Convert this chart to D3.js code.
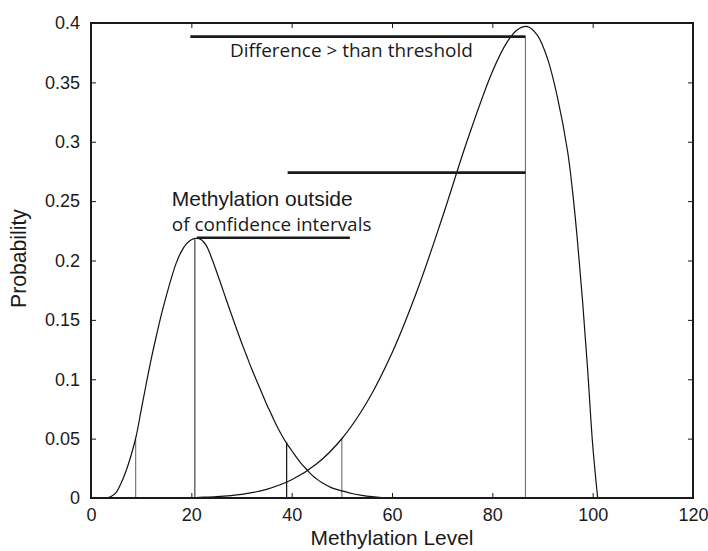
<!DOCTYPE html>
<html>
<head>
<meta charset="utf-8">
<script src="https://cdn.jsdelivr.net/npm/d3@7"></script>
<style>
body { margin: 0; background: #fff; }
svg { display: block; }
.axis text { font-family: "Liberation Sans", Arial, sans-serif; font-size: 18px; fill: #1a1a1a; }
.axis line { stroke: #1a1a1a; stroke-width: 1px; }
.axis path { display: none; }
</style>
</head>
<body>
<div id="chart"></div>
<script>
// tick values and labels
var xTicks = [0, 20, 40, 60, 80, 100, 120];
var yTicks = [0, 0.05, 0.1, 0.15, 0.2, 0.25, 0.3, 0.35, 0.4];
var yTickLabels = ["0", "0.05", "0.1", "0.15", "0.2", "0.25", "0.3", "0.35", "0.4"];

// low methylation distribution
var lowX = [3, 4, 5, 6, 7, 8, 9, 10, 11, 12, 13, 14, 15, 16, 17, 18, 19, 20, 21, 22, 23, 24, 25,
            26, 27, 28, 29, 30, 31, 32, 33, 34, 35, 36, 37, 38, 39, 40, 41, 42, 43, 44, 45, 46,
            48, 50, 52, 54, 56, 58, 60];
var lowY = [0, 0.0012, 0.0045, 0.0125, 0.023, 0.036, 0.052, 0.074, 0.096, 0.117, 0.136, 0.154,
            0.170, 0.185, 0.198, 0.2075, 0.214, 0.2175, 0.2187, 0.2175, 0.2125, 0.2025, 0.191,
            0.179, 0.1665, 0.1545, 0.1425, 0.131, 0.120, 0.109, 0.099, 0.089, 0.079, 0.070,
            0.061, 0.053, 0.046, 0.040, 0.034, 0.0285, 0.024, 0.0195, 0.016, 0.013,
            0.0085, 0.006, 0.0038, 0.0022, 0.0011, 0.0004, 0];

// high methylation distribution
var highX = [20, 21, 25, 30, 35, 40, 45, 50, 55, 60, 65, 70, 75, 80, 83, 85, 87, 89, 91, 93,
             95, 96, 97, 98, 99, 100, 101];
var highY = [0, 0.0004, 0.0011, 0.0031, 0.0073, 0.0153, 0.0288, 0.0499, 0.0806, 0.1221, 0.1745,
             0.2358, 0.301, 0.359, 0.3843, 0.3944, 0.397, 0.3896, 0.370, 0.337, 0.292, 0.258,
             0.215, 0.165, 0.108, 0.045, 0];

// vertical markers (confidence bounds and modes)
var dropX = [8.9, 20.7, 39.0, 50.0, 86.6];
var dropY = [0.0494, 0.218, 0.047, 0.0503, 0.3885];

// horizontal bars
var barX0 = [19.8, 39.2, 21.1];
var barX1 = [86.6, 86.6, 51.6];
var barY = [0.3885, 0.274, 0.2192];

// annotations
var noteText = ["Difference > than threshold", "Methylation outside", "of confidence intervals"];
var noteX = [27.7, 16.1, 16.1];
var noteY = [0.3714, 0.2459, 0.2248];

var width = 708, height = 551;
var margin = {top: 23, right: 15, bottom: 53, left: 91};
var innerWidth = width - margin.left - margin.right,
    innerHeight = height - margin.top - margin.bottom;

var svg = d3.select("#chart").append("svg")
  .attr("width", width)
  .attr("height", height);

var g = svg.append("g")
  .attr("transform", "translate(" + margin.left + "," + margin.top + ")");

var x = d3.scaleLinear().domain([0, 120]).range([0, innerWidth]);
var y = d3.scaleLinear().domain([0, 0.4]).range([innerHeight, 0]);

// axes, ticks pointing inward
g.append("g")
  .attr("class", "axis")
  .attr("transform", "translate(0," + innerHeight + ")")
  .call(d3.axisBottom(x).tickValues(xTicks).tickSizeInner(-5).tickSizeOuter(0).tickPadding(10));

g.append("g")
  .attr("class", "axis")
  .call(d3.axisLeft(y).tickValues(yTicks).tickSizeInner(-5).tickSizeOuter(0).tickPadding(11)
    .tickFormat((d, i) => yTickLabels[i]));

g.append("g")
  .attr("class", "axis mirror")
  .call(d3.axisTop(x).tickValues(xTicks).tickSizeInner(-5).tickSizeOuter(0));

g.append("g")
  .attr("class", "axis mirror")
  .attr("transform", "translate(" + innerWidth + ",0)")
  .call(d3.axisRight(y).tickValues(yTicks).tickSizeInner(-5).tickSizeOuter(0));

// mirror axes carry ticks only
g.selectAll(".mirror text").remove();

// hide end ticks sitting on the frame
g.selectAll(".axis .tick line").filter(function(d) {
  return d === 0 || d === 120 || d === 0.4;
}).remove();

// vertical markers
var dropColors = ["#777", "#444", "#111", "#777", "#777"];
g.append("g")
  .attr("id", "drops")
  .selectAll("line")
  .data(dropX)
  .enter()
  .append("line")
    .attr("x1", d => x(d))
    .attr("x2", d => x(d))
    .attr("y1", y(0))
    .attr("y2", (d, i) => y(dropY[i]))
    .style("stroke", (d, i) => dropColors[i])
    .style("stroke-width", "1.2px");

// curves
var line = d3.line()
  .x(d => x(d[0]))
  .y(d => y(d[1]))
  .curve(d3.curveCatmullRom.alpha(0.5));

var curves = [d3.zip(lowX, lowY), d3.zip(highX, highY)];
g.append("g")
  .attr("id", "curves")
  .selectAll("path")
  .data(curves)
  .enter()
  .append("path")
    .attr("d", d => line(d))
    .style("fill", "none")
    .style("stroke", "#111")
    .style("stroke-width", "1.2px");

// thick horizontal bars
g.append("g")
  .attr("id", "bars")
  .selectAll("line")
  .data(barY)
  .enter()
  .append("line")
    .attr("x1", (d, i) => x(barX0[i]))
    .attr("x2", (d, i) => x(barX1[i]))
    .attr("y1", d => y(d))
    .attr("y2", d => y(d))
    .style("stroke", "#1a1a1a")
    .style("stroke-width", "2.6px");

// frame
g.append("rect")
  .attr("width", innerWidth)
  .attr("height", innerHeight)
  .style("fill", "none")
  .style("stroke", "#1a1a1a")
  .style("stroke-width", "2px");

// scale a label's font so that it spans the target width
function fit(sel, target) {
  var w = sel.node().getComputedTextLength();
  var fs = parseFloat(sel.style("font-size"));
  sel.style("font-size", (fs * target / w) + "px");
}

var noteFonts = ['"Open Sans", sans-serif', '"Liberation Sans", Arial, sans-serif', '"Open Sans", sans-serif'];
var noteWidths = [243, 181, 200];
g.append("g")
  .attr("id", "notes")
  .selectAll("text")
  .data(noteText)
  .enter()
  .append("text")
    .attr("x", (d, i) => x(noteX[i]))
    .attr("y", (d, i) => y(noteY[i]))
    .style("font-family", (d, i) => noteFonts[i])
    .style("font-size", "16px")
    .style("fill", "#1a1a1a")
    .text(d => d)
    .each(function(d, i) { fit(d3.select(this), noteWidths[i]); });

// axis titles
var xTitle = svg.append("text")
  .attr("x", margin.left + innerWidth / 2)
  .attr("y", 545)
  .attr("text-anchor", "middle")
  .style("font-family", '"Liberation Sans", Arial, sans-serif')
  .style("font-size", "20px")
  .style("fill", "#1a1a1a")
  .text("Methylation Level");
fit(xTitle, 163);

var yTitle = svg.append("text")
  .attr("transform", "translate(26," + (margin.top + innerHeight / 2 - 2) + ") rotate(-90)")
  .attr("text-anchor", "middle")
  .style("font-family", '"Liberation Sans", Arial, sans-serif')
  .style("font-size", "20px")
  .style("fill", "#1a1a1a")
  .text("Probability");
fit(yTitle, 99);
</script>
</body>
</html>
